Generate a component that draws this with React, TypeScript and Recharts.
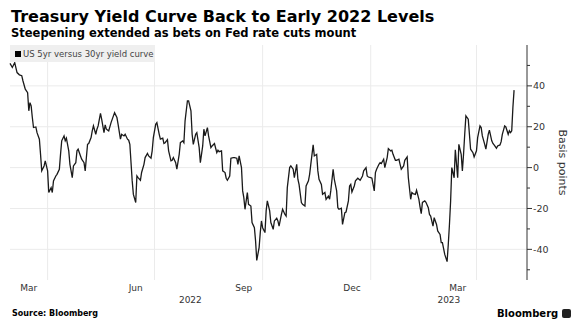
import React from "react";
import {
  LineChart,
  Line,
  XAxis,
  YAxis,
  ReferenceLine,
} from "recharts";

// x = days since 2022-02-28, y = 5s30s spread in basis points
const days = [
  0, 2, 4, 6, 8, 10, 11, 13, 15, 16, 17, 18, 19, 20, 22, 23, 25, 26, 27, 29, 30, 32, 33, 35, 36, 37, 39, 40, 42, 43,
  44, 46, 47, 48, 50, 51, 53, 54, 56, 57, 58, 60, 61, 63, 64, 66, 67, 69, 70, 71, 73, 74, 75, 77, 78, 80, 81, 82, 84,
  86, 89, 91, 92, 94, 95, 97, 98, 100, 101, 102, 104, 105, 107, 108, 109, 111, 112, 114, 115, 117, 118, 120, 121, 122,
  124, 125, 127, 128, 130, 131, 132, 134, 135, 137, 138, 139, 141, 142, 144, 145, 147, 148, 149, 151, 152, 154, 155,
  156, 158, 159, 161, 162, 164, 165, 166, 168, 169, 171, 172, 174,
  176, 177, 178, 180, 181, 183, 184, 185, 187, 188, 190, 191, 193, 194, 195, 197, 198, 199, 200, 202, 203, 205, 206,
  208, 209, 210, 212, 213, 214, 215, 217, 218, 219, 221, 222, 224, 225, 227, 228, 229, 231, 232, 234, 235, 236, 238,
  239, 241, 242, 244, 245, 246, 248, 249, 251, 252, 254, 255, 256, 258, 259, 261, 262, 263,
  265, 266, 268, 269, 271, 272, 273, 275, 276, 278, 279, 280, 282, 283, 285, 286, 288, 289, 290, 291, 293, 294, 296,
  297, 298, 300, 301, 303, 304, 305, 307, 308, 310, 311, 312, 314, 315, 316, 318, 319, 321, 322, 324, 325, 326, 328,
  329, 331, 332, 333, 335, 336, 338, 339, 341, 342, 343, 345, 346, 348, 349,
  350, 351, 353, 354, 356, 357, 358, 360, 361, 363, 364, 366, 367, 368, 370, 372, 373, 374, 375, 376, 378, 379, 381,
  382, 384, 385, 386, 387, 388, 390, 391, 392, 394, 395, 397, 398, 400, 401, 402, 404, 405, 407, 408, 410, 411, 412,
  414, 415, 417, 418, 419, 421, 422, 424, 425, 426, 427, 428, 429,
];

const spread = [
  51, 49, 51.4, 46.5, 45.4, 45, 42.5, 38.4, 36.7, 27.8, 31.8, 30.2, 24.5, 19.6, 19.9, 17.1, 13.9, 6.5, -1.6, 0.8, 3.3,
  -1.6, -12.2, -9.8, -12.2, -6.5, -4.1, -3.3, -0.8, 6.5, 13.1, 15.5, 13.1, 14.4, 8.2, 1.6, -4.9, 0.8, 2.4, 8.2, 9.0,
  5.7, 4.1, 2.4, -1.6, 11.4, 11.8, 14.7, 18.0, 20.4, 16.3, 18.8, 20.4, 26.5, 23.7, 17.1, 20.9, 18.8, 18.0,
  22.0, 26.9, 24.5, 21.2, 13.9, 16.3, 15.5, 16.3, 13.9, 13.4, 11.4, -6.5, -13.1, -17.1, -4.1, -4.9, -6.2, -2.4, 1.6,
  4.9, 6.9, 5.7, 4.6, 8.2, 14.7, 21.2, 22.0, 16.3, 13.9, 14.4, 11.8, 12.2, 13.7, 8.2, 3.3, 3.6, 4.9, 2.4, -0.8, 6.5,
  12.2, 13.1, 12.2, 22.9, 32.7, 32.7, 27.8, 16.3, 11.4, 16.3, 17.1, 9.8, 2.4, 10.6, 18.8, 15.5, 19.6, 15.5, 9.8, 10.6,
  11.8,
  7.3, 8.5, 7.8, 8.2, -1.6, -2.4, -5.2, -6.2, -4.1, 4.6, 4.9, 4.9, 4.6, 1.6, 5.7, 0, -11.4, -14.7, -20.4, -12.2, -18.0,
  -18.8, -26.9, -29.4, -35.9, -45.4, -39.2, -31.8, -26.1, -29.4, -31.8, -21.2, -16.3, -21.2, -26.9, -30.2, -26.1,
  -24.8, -26.1, -28.6, -22.9, -20.4, -22.9, -23.7, -9.8, 0, 0.8, -0.8, -4.9, 1.6, -5.7, -8.2, -17.1, -18.0, -18.8,
  -9.0, -6.5, -3.3, 1.6, 11.1, 5.7, 6.5, -1.6, -5.7,
  -8.2, -13.1, -12.2, -15.5, -13.9, -15.5, -11.4, -0.8, -5.7, -11.4, -19.6, -20.4, -19.9, -27.8, -22.0, -21.7, -16.3,
  -9.0, -8.2, -11.9, -9.0, -6.5, -5.2, -5.7, -6.2, -4.1, -1.6, 0, -4.1, -4.6, -4.9, -5.2, -11.4, -2.4, -0.8, 1.6, 2.4,
  2.0, 4.1, 0, 4.9, 9.3, 8.2, 8.5, 6.5, 3.6, 3.6, 4.1, 1.6, -0.8, 0.8, 3.6, 5.2, -4.9, -15.5, -12.2, -12.7, -13.1,
  -11.1, -15.5, -19.3,
  -22.5, -17, -16.3, -17, -19.6, -22.9, -23.7, -28.6, -24.5, -27.8, -31, -32.7, -36.7, -36.7, -42.5, -46, -37.6,
  -27.8, -16.3, 0, -5, 8.7, -4.9, 11.4, 6.5, -1.6, 6.5, 16.3, 25.3, 23.7, 16.3, 9.0, 7.3, 5.2, 8.2, 14.7, 20.4, 19.6,
  15.5, 11.4, 9.0, 16.3, 18.3, 13.1, 11.8, 11.1, 9.5, 10.6, 11.1, 12.7, 16.3, 20.4, 19.9, 16.3, 18.0, 17.1, 18.0,
  29.4, 37.9,
];

// month labels sit mid-month, gridlines at quarter starts
const monthTicks = [16, 107, 199, 291, 381];
const monthLabels = ["Mar", "Jun", "Sep", "Dec", "Mar"];
const quarterStarts = [32, 123, 215, 307, 397];
const yearTicks = [153.5, 373.5];
const yearLabels = ["2022", "2023"];
const yTicks = [-50, -40, -30, -20, -10, 0, 10, 20, 30, 40, 50];
const yGrid = [-40, -20, 0, 20, 40];

const data = days.map((d, i) => ({ day: d, value: spread[i] }));

const FONT = "'DejaVu Sans', Verdana, sans-serif";
const GRID = "#ebebeb";
const AXIS = "#333";

function RightTick({ x, y, payload }: any) {
  const v = payload.value;
  const major = v % 20 === 0;
  return (
    <g>
      <line x1={x - 5} x2={x - 5 + (major ? 5 : 3)} y1={y} y2={y} stroke={AXIS} strokeWidth={1} />
      {major && (
        <text x={x + 1} y={y} dy="0.35em" fontSize={9.5} fill={AXIS} fontFamily={FONT}>
          {v}
        </text>
      )}
    </g>
  );
}

export default function App() {
  return (
    <div
      style={{
        position: "fixed",
        left: 0,
        top: 0,
        width: 572,
        height: 328,
        background: "#fff",
        fontFamily: FONT,
        overflow: "hidden",
      }}
    >
      <LineChart
        width={572}
        height={328}
        data={data}
        margin={{ top: 45, right: 0, bottom: 0, left: 10 }}
        style={{ position: "absolute", left: 0, top: 0 }}
      >
        {yGrid.map((g) => (
          <ReferenceLine key={"h" + g} y={g} stroke={GRID} strokeWidth={1} />
        ))}
        {quarterStarts.map((q) => (
          <ReferenceLine key={"v" + q} x={q} stroke={GRID} strokeWidth={1} />
        ))}
        <XAxis
          dataKey="day"
          type="number"
          domain={[0, 440]}
          ticks={monthTicks}
          tickFormatter={(v) => monthLabels[monthTicks.indexOf(v)]}
          axisLine={false}
          tickLine={false}
          tickSize={0}
          tickMargin={5}
          height={14}
          interval={0}
          tick={{ fontSize: 9, fill: AXIS, fontFamily: FONT }}
        />
        <XAxis
          xAxisId="year"
          dataKey="day"
          type="number"
          domain={[0, 440]}
          ticks={yearTicks}
          tickFormatter={(v) => yearLabels[yearTicks.indexOf(v)]}
          axisLine={false}
          tickLine={false}
          tickSize={0}
          tickMargin={3}
          height={34}
          interval={0}
          tick={{ fontSize: 9, fill: AXIS, fontFamily: FONT }}
        />
        <YAxis
          orientation="right"
          type="number"
          domain={[-55, 60]}
          ticks={yTicks}
          interval={0}
          width={45}
          tickSize={5}
          tickMargin={0}
          tickLine={false}
          axisLine={{ stroke: AXIS }}
          tick={<RightTick />}
          label={{
            value: "Basis points",
            angle: 90,
            position: "insideRight",
            offset: 9,
            style: { fontSize: 11, fill: AXIS, fontFamily: FONT, textAnchor: "middle" },
          }}
        />
        <Line
          type="linear"
          dataKey="value"
          stroke="#1a1a1a"
          strokeWidth={1.3}
          dot={false}
          isAnimationActive={false}
        />
      </LineChart>

      <div
        style={{
          position: "absolute",
          left: 11,
          top: 7,
          fontSize: 16,
          fontWeight: "bold",
          color: "#000",
          whiteSpace: "nowrap",
          lineHeight: "19px",
        }}
      >
        Treasury Yield Curve Back to Early 2022 Levels
      </div>
      <div
        style={{
          position: "absolute",
          left: 11,
          top: 27,
          fontSize: 11.5,
          fontWeight: "bold",
          color: "#000",
          whiteSpace: "nowrap",
          lineHeight: "13px",
        }}
      >
        Steepening extended as bets on Fed rate cuts mount
      </div>
      <div
        style={{
          position: "absolute",
          left: 10,
          top: 45,
          width: 145,
          height: 17,
          background: "#efefef",
          display: "flex",
          alignItems: "center",
          fontSize: 8.5,
          color: "#444",
          whiteSpace: "nowrap",
        }}
      >
        <span style={{ display: "inline-block", width: 6, height: 6, background: "#000", margin: "0 2px 0 5px" }} />
        US 5yr versus 30yr yield curve
      </div>
      <div
        style={{
          position: "absolute",
          left: 12,
          top: 309,
          fontSize: 8,
          fontWeight: "bold",
          color: "#000",
          whiteSpace: "nowrap",
          lineHeight: "10px",
        }}
      >
        Source: Bloomberg
      </div>
      <div
        style={{
          position: "absolute",
          left: 497,
          top: 307,
          fontSize: 10,
          fontWeight: "bold",
          color: "#000",
          whiteSpace: "nowrap",
          lineHeight: "13px",
          display: "flex",
          alignItems: "center",
        }}
      >
        Bloomberg
        <span
          style={{
            display: "inline-block",
            width: 9,
            height: 9,
            background: "#222",
            borderRadius: 2,
            marginLeft: 4,
          }}
        />
      </div>
    </div>
  );
}
